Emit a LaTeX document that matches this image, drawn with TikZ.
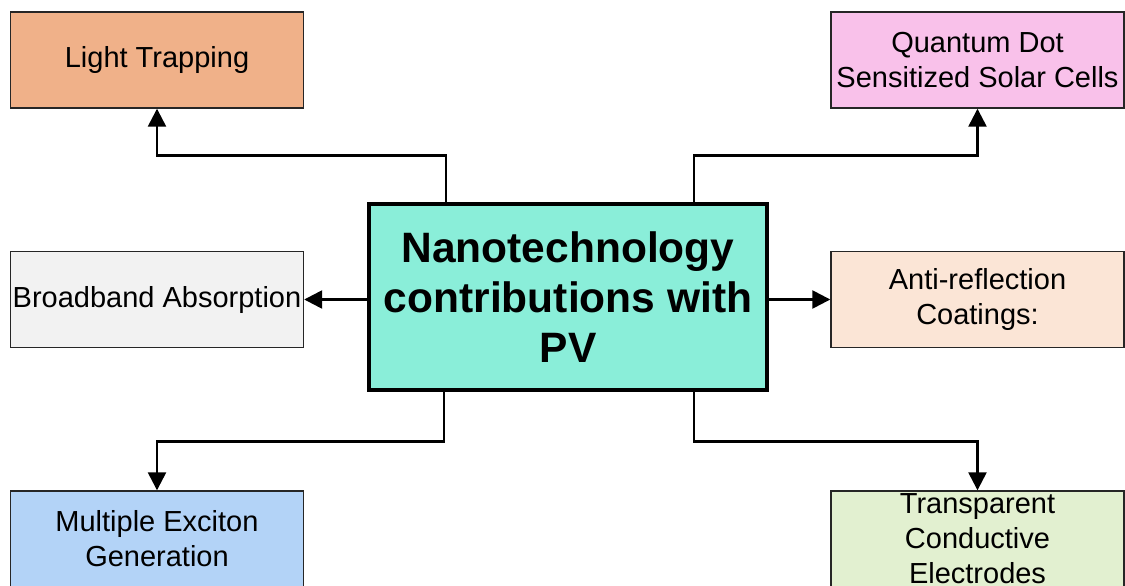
\documentclass[tikz,border=0pt]{standalone}
\usepackage{fontspec}
\setmainfont{Liberation Sans}
\usetikzlibrary{arrows.meta}
\definecolor{cLT}{HTML}{F0B189}
\definecolor{cQD}{HTML}{F9C1EA}
\definecolor{cBB}{HTML}{F2F2F2}
\definecolor{cAR}{HTML}{FBE5D6}
\definecolor{cME}{HTML}{B3D3F7}
\definecolor{cTC}{HTML}{E2F0D0}
\definecolor{cC}{HTML}{8AEED9}
\tikzset{
  sub/.style={draw=black!85, line width=1.4pt, rectangle, minimum width=293pt, minimum height=96pt, inner sep=0pt, align=center, font=\fontsize{29}{35}\selectfont},
  central/.style={draw=black, line width=4pt, rectangle, minimum width=398pt, minimum height=186pt, inner sep=0pt, align=center, fill=cC, font=\fontsize{42.5}{50}\selectfont\bfseries},
  conn/.style={draw=black, line width=2.5pt, -{Triangle[width=18pt,length=18pt]}}
}
\begin{document}
\begin{tikzpicture}[x=1pt,y=-1pt]
\useasboundingbox (0,0) rectangle (1125,586);
\node[central] (c) at (568,297) {Nanotechnology\\contributions with\\PV};
\node[sub, fill=cLT] (lt) at (157,60) {Light Trapping};
\node[sub, fill=cQD] (qd) at (977.5,60) {Quantum Dot\\Sensitized Solar Cells};
\node[sub, fill=cBB] (bb) at (157,299.5) {Broadband Absorption};
\node[sub, fill=cAR] (ar) at (977.5,299.5) {Anti-reflection\\Coatings:};
\node[sub, fill=cME] (me) at (157,539) {Multiple Exciton\\Generation};
\node[sub, fill=cTC] (tc) at (977.5,539) {Transparent\\Conductive\\Electrodes};
\draw[conn] ([xshift=79pt]c.north west) |- ([yshift=-47pt]lt.south) -- (lt.south);
\draw[conn] ([xshift=-75pt]c.north east) |- ([yshift=-47pt]qd.south) -- (qd.south);
\draw[conn] ([xshift=77pt]c.south west) |- ([yshift=49pt]me.north) -- (me.north);
\draw[conn] ([xshift=-75pt]c.south east) |- ([yshift=49pt]tc.north) -- (tc.north);
\draw[conn] (c.west |- bb.east) -- (bb.east);
\draw[conn] (c.east |- ar.west) -- (ar.west);
\end{tikzpicture}
\end{document}
